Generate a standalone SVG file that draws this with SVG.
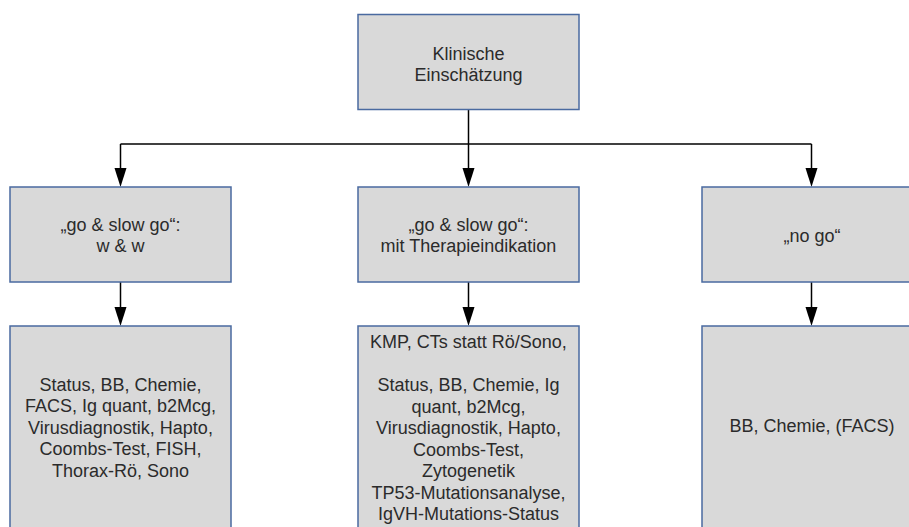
<svg xmlns="http://www.w3.org/2000/svg" width="909" height="527" viewBox="0 0 909 527">
<style>
.box{fill:#d9d9d9;stroke:#4a6aa0;stroke-width:1.5}
.t{font-family:"Liberation Sans",Arial,sans-serif;font-size:18px;fill:#2b2b2b;text-anchor:middle}
.c{fill:none;stroke:#000;stroke-width:1.5}
</style>
<rect width="909" height="527" fill="#fff"/>
<g id="connectors">
<path class="c" d="M468.5,110 V144"/>
<path class="c" d="M120.5,144 H811.5"/>
<path class="c" d="M120.5,144 V168"/><path d="M114.5,168 H126.5 L120.5,187 Z"/>
<path class="c" d="M468.5,144 V168"/><path d="M462.5,168 H474.5 L468.5,187 Z"/>
<path class="c" d="M811.5,144 V168"/><path d="M805.5,168 H817.5 L811.5,187 Z"/>
<path class="c" d="M120.5,282 V307"/><path d="M114.5,307 H126.5 L120.5,326 Z"/>
<path class="c" d="M468.5,282 V307"/><path d="M462.5,307 H474.5 L468.5,326 Z"/>
<path class="c" d="M811.5,282 V307"/><path d="M805.5,307 H817.5 L811.5,326 Z"/>
</g>
<g id="n0">
<rect class="box" x="358" y="14.5" width="221" height="95"/>
<text class="t" x="468.5" y="59.5">Klinische</text>
<text class="t" x="468.5" y="81">Einschätzung</text>
</g>
<g id="n1">
<rect class="box" x="10" y="187" width="221" height="95"/>
<text class="t" x="120.5" y="230.5">„go &amp; slow go“:</text>
<text class="t" x="120.5" y="252">w &amp; w</text>
</g>
<g id="n2">
<rect class="box" x="358" y="187" width="221" height="95"/>
<text class="t" x="468.5" y="230.5">„go &amp; slow go“:</text>
<text class="t" x="468.5" y="252">mit Therapieindikation</text>
</g>
<g id="n3">
<rect class="box" x="702" y="187" width="221" height="95"/>
<text class="t" x="812" y="241.5">„no go“</text>
</g>
<g id="n4">
<rect class="box" x="10" y="326" width="221" height="220"/>
<text class="t" x="120.5" y="390.5">Status, BB, Chemie,</text>
<text class="t" x="120.5" y="412">FACS, Ig quant, b2Mcg,</text>
<text class="t" x="120.5" y="433.5">Virusdiagnostik, Hapto,</text>
<text class="t" x="120.5" y="455">Coombs-Test, FISH,</text>
<text class="t" x="120.5" y="476.5">Thorax-Rö, Sono</text>
</g>
<g id="n5">
<rect class="box" x="358" y="326" width="221" height="220"/>
<text class="t" x="468.5" y="348">KMP, CTs statt Rö/Sono,</text>
<text class="t" x="468.5" y="391">Status, BB, Chemie, Ig</text>
<text class="t" x="468.5" y="412.5">quant, b2Mcg,</text>
<text class="t" x="468.5" y="434">Virusdiagnostik, Hapto,</text>
<text class="t" x="468.5" y="455.5">Coombs-Test,</text>
<text class="t" x="468.5" y="477">Zytogenetik</text>
<text class="t" x="468.5" y="498.5">TP53-Mutationsanalyse,</text>
<text class="t" x="468.5" y="520">IgVH-Mutations-Status</text>
</g>
<g id="n6">
<rect class="box" x="702" y="326" width="221" height="220"/>
<text class="t" x="812" y="431.5">BB, Chemie, (FACS)</text>
</g>
</svg>
